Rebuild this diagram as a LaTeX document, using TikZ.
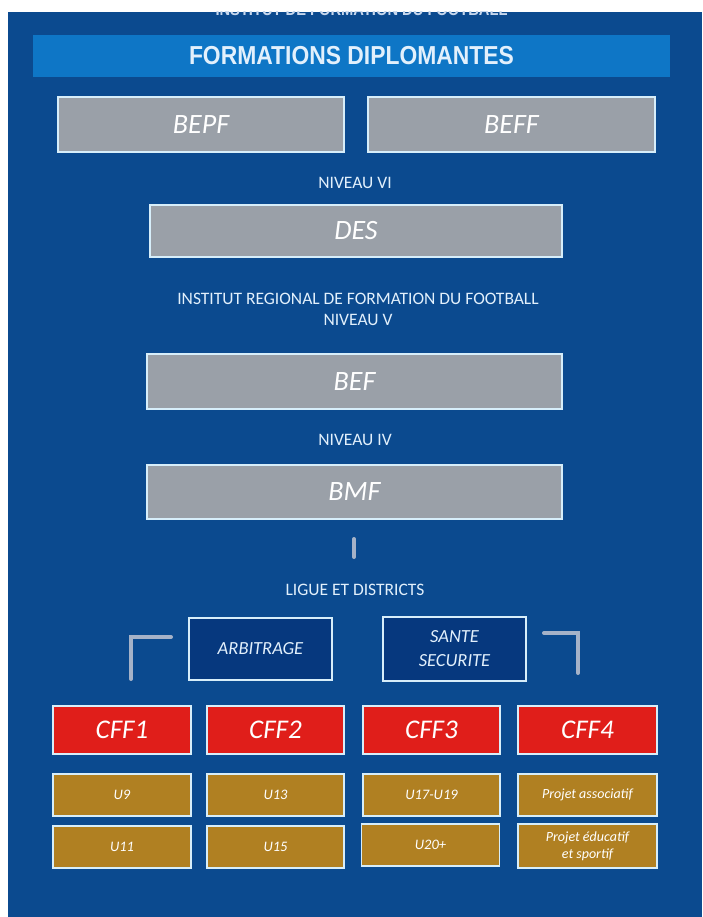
\documentclass[tikz,border=0pt]{standalone}
\usepackage{fontspec}
\newfontfamily\calfont{Carlito}
\newfontfamily\headfont[FakeStretch=0.88]{Liberation Sans}
\definecolor{bgblue}{RGB}{11,74,143}
\definecolor{barblue}{RGB}{14,118,198}
\definecolor{boxgray}{RGB}{154,160,168}
\definecolor{edgelight}{RGB}{215,238,250}
\definecolor{navy}{RGB}{6,56,126}
\definecolor{cffred}{RGB}{224,30,26}
\definecolor{gold}{RGB}{176,128,34}
\definecolor{labeltext}{RGB}{226,240,252}
\definecolor{linegray}{RGB}{165,178,200}
\definecolor{cuttext}{RGB}{200,216,238}
\tikzset{
  graybox/.style={draw=edgelight, line width=1.5pt, fill=boxgray, inner sep=0pt,
    text=white, font=\calfont\itshape\fontsize{28}{34}\selectfont},
  navybox/.style={draw=edgelight, line width=1.8pt, fill=navy, inner sep=0pt,
    minimum width=143pt, text=labeltext, align=center,
    font=\calfont\itshape\fontsize{18.5}{24}\selectfont},
  cffbox/.style={draw=edgelight, line width=1.5pt, fill=cffred, inner sep=0pt,
    minimum height=48pt, text=white, font=\calfont\itshape\fontsize{27}{32}\selectfont},
  agebox/.style={draw=edgelight, line width=1.5pt, fill=gold, inner sep=0pt,
    minimum height=42pt, text=white, align=center,
    font=\calfont\itshape\fontsize{14.5}{17}\selectfont},
  projbox/.style={agebox, font=\calfont\itshape\fontsize{14}{17}\selectfont},
  levellabel/.style={text=labeltext, inner sep=0pt, align=center,
    font=\calfont\fontsize{17.5}{21}\selectfont},
  bracketline/.style={draw=linegray, line width=4pt, line cap=round, line join=miter}
}
\begin{document}
\begin{tikzpicture}[x=1pt,y=-1pt]
\useasboundingbox (0,0) rectangle (702,917);
\fill[white] (0,0) rectangle (702,917);
\fill[bgblue] (8,12) rectangle (702,917);
\begin{scope}
\clip (8,12) rectangle (702,917);
\node[anchor=base, inner sep=0pt, text=cuttext, font=\headfont\bfseries\fontsize{16.7}{20}\selectfont] (cut) at (361.5,15.5) {INSTITUT DE FORMATION DU FOOTBALL};
\end{scope}
% title bar
\node[fill=barblue, minimum width=637pt, minimum height=42pt, inner sep=0pt, text=labeltext,
  font=\headfont\bfseries\fontsize{26}{30}\selectfont] (title) at (351.5,56) {FORMATIONS DIPLOMANTES};
% top gray boxes
\node[graybox, minimum width=286pt, minimum height=55pt] (bepf) at (201,124.5) {BEPF};
\node[graybox, minimum width=287pt, minimum height=55pt] (beff) at (511.5,124.5) {BEFF};
\node[levellabel] (n6) at (355,183) {NIVEAU VI};
\node[graybox, minimum width=412pt, minimum height=52pt] (des) at (356,231) {DES};
\node[levellabel] (n5) at (358,309) {INSTITUT REGIONAL DE FORMATION DU FOOTBALL\\NIVEAU V};
\node[graybox, minimum width=415pt, minimum height=55pt] (bef) at (354.5,381.5) {BEF};
\node[levellabel] (n4) at (355,440) {NIVEAU IV};
\node[graybox, minimum width=415pt, minimum height=54pt] (bmf) at (354.5,492) {BMF};
% short vertical line
\coordinate (vl1) at (354,539);
\coordinate (vl2) at (354,557);
\draw[bracketline] (vl1) -- (vl2);
\node[levellabel] (ligue) at (355,590) {LIGUE ET DISTRICTS};
% navy boxes
\node[navybox, minimum height=62pt] (arb) at (260.5,649) {ARBITRAGE};
\node[navybox, minimum height=64pt] (sante) at (454.5,649) {SANTE\\SECURITE};
% brackets
\coordinate (lb1) at (131,679);
\coordinate (lb2) at (131,637);
\coordinate (lb3) at (171,637);
\draw[bracketline] (lb1) -- (lb2) -- (lb3);
\coordinate (rb1) at (544,633);
\coordinate (rb2) at (578,633);
\coordinate (rb3) at (578,673);
\draw[bracketline] (rb1) -- (rb2) -- (rb3);
% CFF boxes
\node[cffbox, minimum width=138pt] (cff1) at (122,730) {CFF1};
\node[cffbox, minimum width=137pt] (cff2) at (275.5,730) {CFF2};
\node[cffbox, minimum width=137pt] (cff3) at (431.5,730) {CFF3};
\node[cffbox, minimum width=139pt] (cff4) at (587.5,730) {CFF4};
% age boxes
\node[agebox, minimum width=138pt] (u9) at (122,795) {U9};
\node[agebox, minimum width=137pt] (u13) at (275.5,795) {U13};
\node[agebox, minimum width=137pt] (u17) at (431.5,795) {U17-U19};
\node[projbox, minimum width=139pt] (passo) at (587.5,795) {Projet associatif};
\node[agebox, minimum width=138pt] (u11) at (122,847) {U11};
\node[agebox, minimum width=137pt] (u15) at (275.5,847) {U15};
\node[agebox, minimum width=138pt] (u20) at (430.5,845) {U20+};
\node[projbox, minimum width=139pt, minimum height=44pt] (pedu) at (587.5,846) {Projet éducatif\\et sportif};
\end{tikzpicture}
\end{document}
